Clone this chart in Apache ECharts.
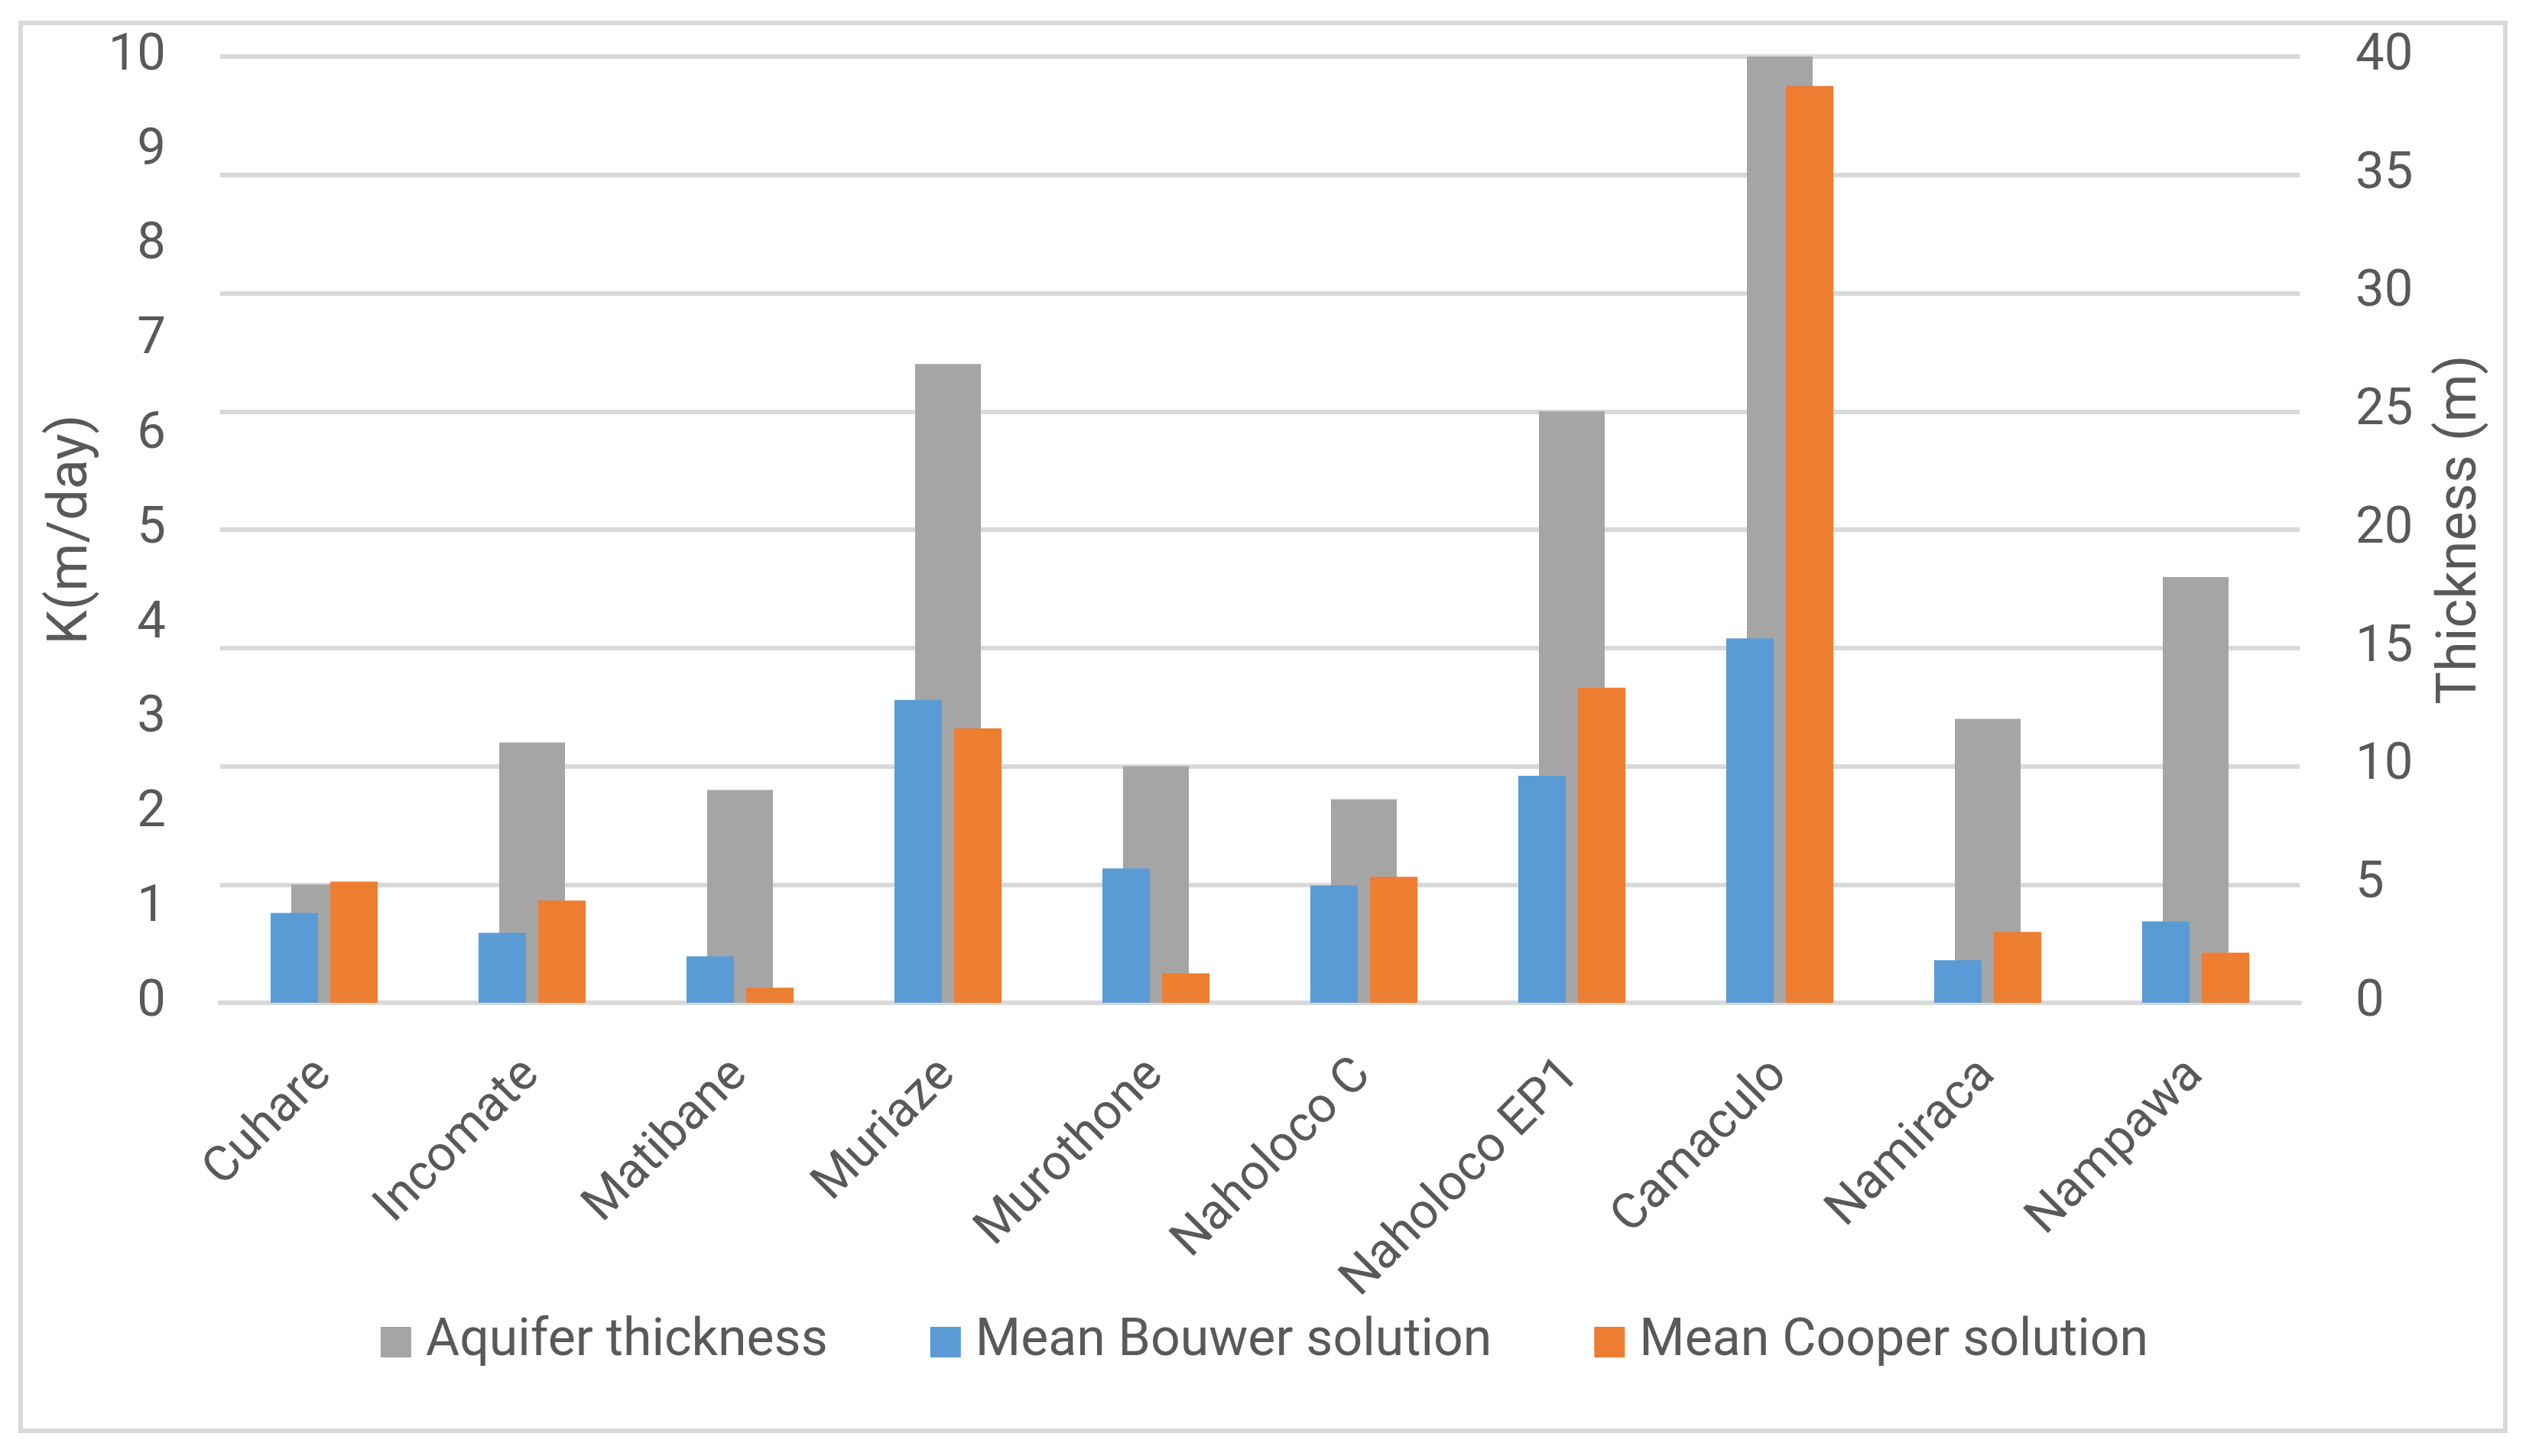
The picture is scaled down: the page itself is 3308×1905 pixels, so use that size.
<!DOCTYPE html>
<html>
<head>
<meta charset="utf-8">
<script src="https://cdn.jsdelivr.net/npm/echarts@6/dist/echarts.min.js"></script>
<style>
html,body{margin:0;padding:0;background:#fff;}
#main{width:3308px;height:1905px;}
</style>
</head>
<body>
<div id="main"></div>
<script>
var categories = ['Cuhare','Incomate','Matibane','Muriaze','Murothone','Naholoco C','Naholoco EP1','Camaculo','Namiraca','Nampawa'];
var aquiferThickness = [5, 11, 9, 27, 10, 8.6, 25, 40, 12, 18];
var meanBouwer = [0.95, 0.74, 0.49, 3.20, 1.42, 1.24, 2.40, 3.85, 0.45, 0.86];
var meanCooper = [1.28, 1.08, 0.16, 2.90, 0.31, 1.33, 3.33, 9.69, 0.75, 0.53];
var leftTicks = {min: 0, max: 10, interval: 1};
var rightTicks = {min: 0, max: 40, interval: 5};

var textColor = '#595959';
var font = 'Roboto';
var chart = echarts.init(document.getElementById('main'), null, {renderer: 'canvas'});
chart.setOption({
  animation: false,
  backgroundColor: '#ffffff',
  graphic: [{
    type: 'rect',
    shape: {x: 27, y: 30, width: 3250, height: 1842},
    style: {fill: 'none', stroke: '#d9d9d9', lineWidth: 6},
    silent: true
  }],
  grid: {left: 288, right: 300, top: 74, bottom: 593, containLabel: false},
  legend: {
    data: ['Aquifer thickness', 'Mean Bouwer solution', 'Mean Cooper solution'],
    left: 'center',
    top: 1717,
    icon: 'rect',
    itemWidth: 40,
    itemHeight: 40,
    itemGap: 134,
    textStyle: {color: textColor, fontFamily: font, fontSize: 68, padding: [0, 0, 0, 14]}
  },
  xAxis: [{
    type: 'category',
    data: categories,
    axisLine: {show: true, lineStyle: {color: '#d9d9d9', width: 6}},
    axisTick: {show: false},
    axisLabel: {color: textColor, fontFamily: font, fontSize: 65, rotate: 45, margin: 85, interval: 0}
  }, {
    type: 'category',
    data: categories,
    show: false
  }],
  yAxis: [{
    type: 'value',
    min: leftTicks.min, max: leftTicks.max, interval: leftTicks.interval,
    position: 'left',
    name: 'K(m/day)',
    nameLocation: 'middle',
    nameGap: 150,
    nameTextStyle: {color: textColor, fontFamily: font, fontSize: 72},
    axisLine: {show: false},
    axisTick: {show: false},
    splitLine: {show: false},
    axisLabel: {color: textColor, fontFamily: font, fontSize: 67, margin: 71}
  }, {
    type: 'value',
    min: rightTicks.min, max: rightTicks.max, interval: rightTicks.interval,
    position: 'right',
    name: 'Thickness (m)',
    nameLocation: 'middle',
    nameGap: 176,
    nameTextStyle: {color: textColor, fontFamily: font, fontSize: 72},
    axisLine: {show: false},
    axisTick: {show: false},
    splitLine: {show: true, lineStyle: {color: '#d9d9d9', width: 6}},
    axisLabel: {color: textColor, fontFamily: font, fontSize: 67, margin: 73}
  }],
  series: [{
    name: 'Aquifer thickness',
    type: 'bar',
    xAxisIndex: 1,
    yAxisIndex: 1,
    data: aquiferThickness,
    barWidth: 86,
    itemStyle: {color: '#a5a5a5'},
    z: 1
  }, {
    name: 'Mean Bouwer solution',
    type: 'bar',
    xAxisIndex: 0,
    yAxisIndex: 0,
    data: meanBouwer,
    barWidth: 62,
    barGap: '26%',
    itemStyle: {color: '#5b9bd5'},
    z: 2
  }, {
    name: 'Mean Cooper solution',
    type: 'bar',
    xAxisIndex: 0,
    yAxisIndex: 0,
    data: meanCooper,
    barWidth: 62,
    barGap: '26%',
    itemStyle: {color: '#ed7d31'},
    z: 2
  }]
});
</script>
</body>
</html>
